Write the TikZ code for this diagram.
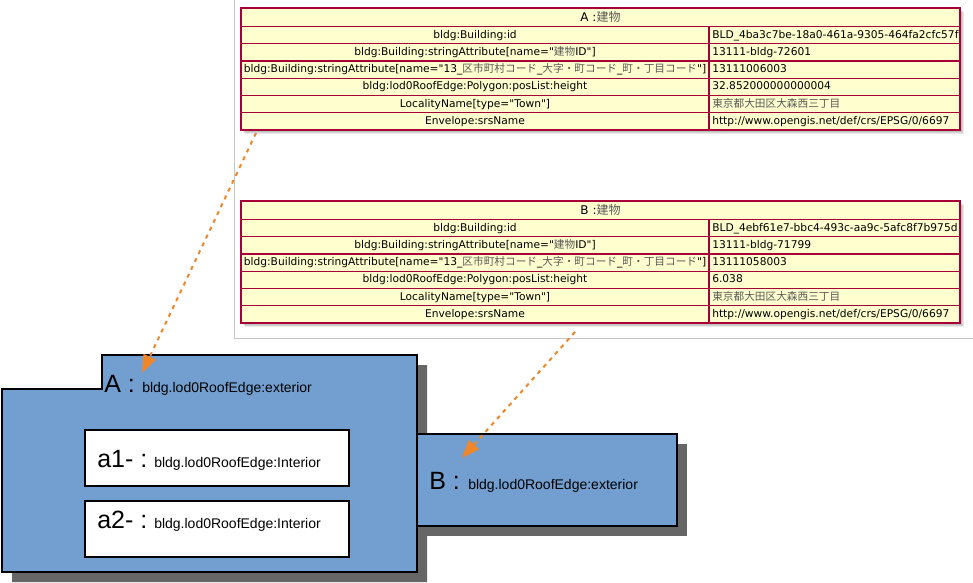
\documentclass[tikz,border=0pt]{standalone}
\usepackage{fontspec}
\setmainfont{Liberation Sans}
\newfontfamily\tabfont[Ligatures=TeXOff]{DejaVu Sans}
\newfontfamily\jpfont{Noto Sans CJK JP}
\usetikzlibrary{arrows.meta}

\definecolor{objborder}{HTML}{A80036}
\definecolor{objfill}{HTML}{FEFECE}
\definecolor{shapeblue}{HTML}{729FCF}
\definecolor{shadowgray}{HTML}{666666}
\definecolor{linkorange}{HTML}{F0862A}
\definecolor{framegray}{HTML}{C4C4C4}

% Japanese segments inside table text
\newcommand{\jp}[1]{{\jpfont\color{black!65}#1}}

\tikzset{
  tablebox/.style={draw=objborder, fill=objfill, line width=1.1pt,
    minimum width=539.25pt, minimum height=91.5pt, inner sep=0pt, outer sep=0pt},
  tableline/.style={draw=objborder, line width=1.1pt},
  headtext/.style={font=\tabfont\fontsize{9pt}{10pt}\selectfont, anchor=center,
    inner sep=0pt, text height=7.5pt, text depth=2pt},
  keytext/.style={font=\tabfont\fontsize{8pt}{9pt}\selectfont, anchor=center,
    inner sep=0pt, text height=6.5pt, text depth=2pt},
  valtext/.style={keytext, anchor=west},
  shapebody/.style={fill=shapeblue, draw=black, line width=1.5pt, line join=miter},
  shapeshadow/.style={fill=shadowgray},
  innerbox/.style={draw=black, fill=white, line width=1.5pt,
    minimum width=198pt, minimum height=42pt, inner sep=0pt},
  bigtext/.style={font=\fontsize{18.75pt}{20pt}\selectfont, anchor=base west, inner sep=0pt},
  smalltext/.style={font=\fontsize{10.5pt}{12pt}\selectfont, anchor=base west, inner sep=0pt},
  link/.style={draw=linkorange, line width=1.5pt, dash pattern=on 3pt off 3.5pt,
    -{Triangle[length=13.5pt, width=10pt, fill=linkorange]}},
}

% Object table: #1 name, #2 top edge, #3 title, #4 id, #5 building ID,
% #6 area code, #7 height
\newcommand{\objtable}[7]{%
  \foreach \s in {1,...,4}{%
    \fill[black, opacity=0.09] (241+\s,#2+\s) rectangle (960+\s,#2+122+\s);}
  \node[tablebox] (#1) at (600.5,#2+61) {};
  \draw[tableline] (241,#2+18.5) -- (960,#2+18.5);
  \foreach \i in {1,...,5}{%
    \draw[tableline] (241,#2+18.5+17.25*\i) -- (960,#2+18.5+17.25*\i);}
  \draw[tableline] (709,#2+18.5) -- (709,#2+122);
  \node[headtext] (#1-title) at (600.5,#2+9.5) {#3};
  \node[keytext] (#1-k1) at (475,#2+27.125) {bldg:Building:id};
  \node[keytext] (#1-k2) at (475,#2+44.375) {bldg:Building:stringAttribute[name="\jp{建物}ID"]};
  \node[keytext] (#1-k3) at (475,#2+61.625) {bldg:Building:stringAttribute[name="13\_\jp{区市町村コード}\_\jp{大字・町コード}\_\jp{町・丁目コード}"]};
  \node[keytext] (#1-k4) at (475,#2+78.875) {bldg:lod0RoofEdge:Polygon:posList:height};
  \node[keytext] (#1-k5) at (475,#2+96.125) {LocalityName[type="Town"]};
  \node[keytext] (#1-k6) at (475,#2+113.375) {Envelope:srsName};
  \node[valtext] (#1-v1) at (712,#2+27.125) {#4};
  \node[valtext] (#1-v2) at (712,#2+44.375) {#5};
  \node[valtext] (#1-v3) at (712,#2+61.625) {#6};
  \node[valtext] (#1-v4) at (712,#2+78.875) {#7};
  \node[valtext] (#1-v5) at (712,#2+96.125) {\jp{東京都大田区大森西三丁目}};
  \node[valtext] (#1-v6) at (712,#2+113.375) {http://www.opengis.net/def/crs/EPSG/0/6697};
}

\begin{document}
\begin{tikzpicture}[x=0.75pt, y=-0.75pt]
\useasboundingbox (0,0) rectangle (973,582);

% frame around the attribute tables
\draw[framegray, line width=0.75pt] (234,0) -- (234,338) -- (973,338);

% attribute tables of the two buildings
\objtable{objA}{8}{A :\jp{建物}}{BLD\_4ba3c7be-18a0-461a-9305-464fa2cfc57f}{13111-bldg-72601}{13111006003}{32.852000000000004}
\objtable{objB}{201}{B :\jp{建物}}{BLD\_4ebf61e7-bbc4-493c-aa9c-5afc8f7b975d}{13111-bldg-71799}{13111058003}{6.038}

% roof edge A with its shadow
\fill[shapeshadow] (12,399) -- (112,399) -- (112,365) -- (427,365) -- (427,582) -- (12,582) -- cycle;
\path[shapebody] (2,389) -- (102,389) -- (102,355) -- (417,355) -- (417,572) -- (2,572) -- cycle;

% roof edge B with its shadow
\fill[shapeshadow] (427,444) rectangle (687,536);
\path[shapebody] (417,434) rectangle (677,526);

% interior rings of A
\node[innerbox] (a1) at (217,458) {};
\node[innerbox] (a2) at (217,529) {};

% labels
\node[bigtext] (A-name) at (104,392) {A :};
\node[smalltext] (A-kind) at (142,392) {bldg.lod0RoofEdge:exterior};
\node[bigtext] (a1-name) at (97,467) {a1- :};
\node[smalltext] (a1-kind) at (154,467) {bldg.lod0RoofEdge:Interior};
\node[bigtext] (a2-name) at (97,528) {a2- :};
\node[smalltext] (a2-kind) at (154,528) {bldg.lod0RoofEdge:Interior};
\node[bigtext] (B-name) at (429,489) {B :};
\node[smalltext] (B-kind) at (468,489) {bldg.lod0RoofEdge:exterior};

% links from the tables to the shapes
\coordinate (linkA-from) at (256,133);
\coordinate (linkA-to) at (142,373);
\coordinate (linkB-from) at (575,332);
\coordinate (linkB-to) at (462,458);
\draw[link] (linkA-from) -- (linkA-to);
\draw[link] (linkB-from) -- (linkB-to);
\end{tikzpicture}
\end{document}
